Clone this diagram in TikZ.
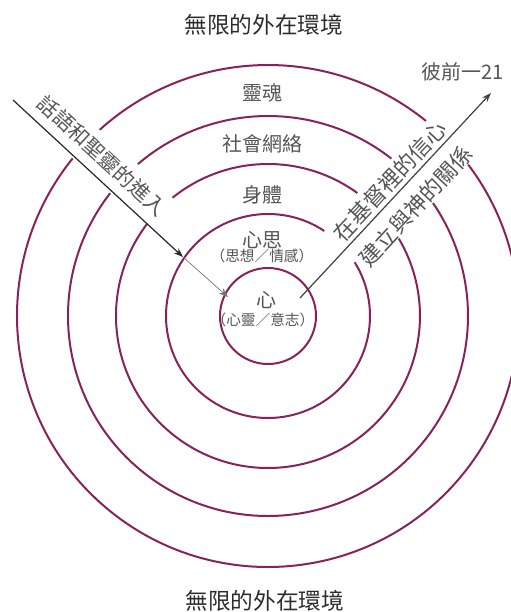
\documentclass[tikz,border=0pt]{standalone}
\usepackage{fontspec}
\usepackage{xcolor}
\usetikzlibrary{arrows.meta,positioning}
\newfontfamily\cjk{Noto Sans CJK TC}
\definecolor{ringred}{RGB}{135,35,90}
\definecolor{labelgray}{RGB}{85,85,85}
\definecolor{titlegray}{RGB}{45,45,45}
\tikzset{
  ring/.style={ringred, line width=1.5pt},
  titletext/.style={text=titlegray, font=\cjk\fontsize{17}{17}\selectfont, inner sep=0pt},
  ringlabel/.style={text=labelgray, font=\cjk\fontsize{15}{15}\selectfont, inner sep=0pt},
  sublabel/.style={text=labelgray, font=\cjk\fontsize{11}{11}\selectfont, inner sep=0pt},
  pathlabel/.style={text=labelgray, font=\cjk\fontsize{15.5}{15.5}\selectfont, inner sep=0pt},
  enterline/.style={black!85, line width=0.9pt, -{Stealth[length=7pt,width=5pt]}},
  thinline/.style={black!55, line width=0.5pt, -{Stealth[length=7pt,width=5pt]}},
  faithline/.style={black!75, line width=0.9pt, -{Stealth[length=7pt,width=5pt]}}
}
\begin{document}
\begin{tikzpicture}[x=0.75pt,y=0.75pt]
  \clip (-268,-296) rectangle (243,316);

  % rings, with gaps where the two paths cross
  \draw[ring] (0,0) circle[radius=48];
  \draw[ring] (56.5:102) arc[start angle=56.5, end angle=391.8, radius=102];
  \draw[ring] (54:152) arc[start angle=54, end angle=128.9, radius=152];
  \draw[ring] (142.5:152) arc[start angle=142.5, end angle=390.6, radius=152];
  \draw[ring] (51.9:200) arc[start angle=51.9, end angle=130.6, radius=200];
  \draw[ring] (142.1:200) arc[start angle=142.1, end angle=394.4, radius=200];
  \draw[ring] (51:251) arc[start angle=51, end angle=132.1, radius=251];
  \draw[ring] (141.1:251) arc[start angle=141.1, end angle=397.1, radius=251];

  \node[titletext] (outertop) at (-4,291) {無限的外在環境};
  \node[titletext] (outerbottom) at (-3,-285) {無限的外在環境};

  \node[ringlabel] (soul) at (-5,223) {靈魂};
  \node[ringlabel] (social) at (-5,172) {社會網絡};
  \node[ringlabel] (body) at (-5,121) {身體};
  \node[ringlabel] (mind) at (-5,76) {心思};
  \node[sublabel] (mindsub) at (-6,60) {（思想／情感）};
  \node[ringlabel] (heart) at (-1,16) {心};
  \node[sublabel] (heartsub) at (-5,-4) {（心靈／意志）};

  \node[ringlabel] (verse) at (195,244) {彼前一21};

  % word and Spirit coming in
  \coordinate (wordin) at (-255,216);
  \coordinate (wordmid) at (-85,59);
  \coordinate (heartin) at (-40,19);
  \draw[enterline] (wordin) -- (wordmid);
  \draw[thinline] (wordmid) -- (heartin);
  \node[pathlabel, rotate=-42.7] (wordtext) at (-166,160.5) {話語和聖靈的進入};

  % faith going out
  \coordinate (faithstart) at (32,18);
  \coordinate (faithend) at (223,223);
  \draw[faithline] (faithstart) -- (faithend);
  \node[pathlabel, font=\cjk\fontsize{16.5}{16.5}\selectfont, rotate=47] (faithtext) at (121.8,135) {在基督裡的信心};
  \node[pathlabel, font=\cjk\fontsize{16.5}{16.5}\selectfont, rotate=47] (relationtext) at (148,110) {建立與神的關係};
\end{tikzpicture}
\end{document}
